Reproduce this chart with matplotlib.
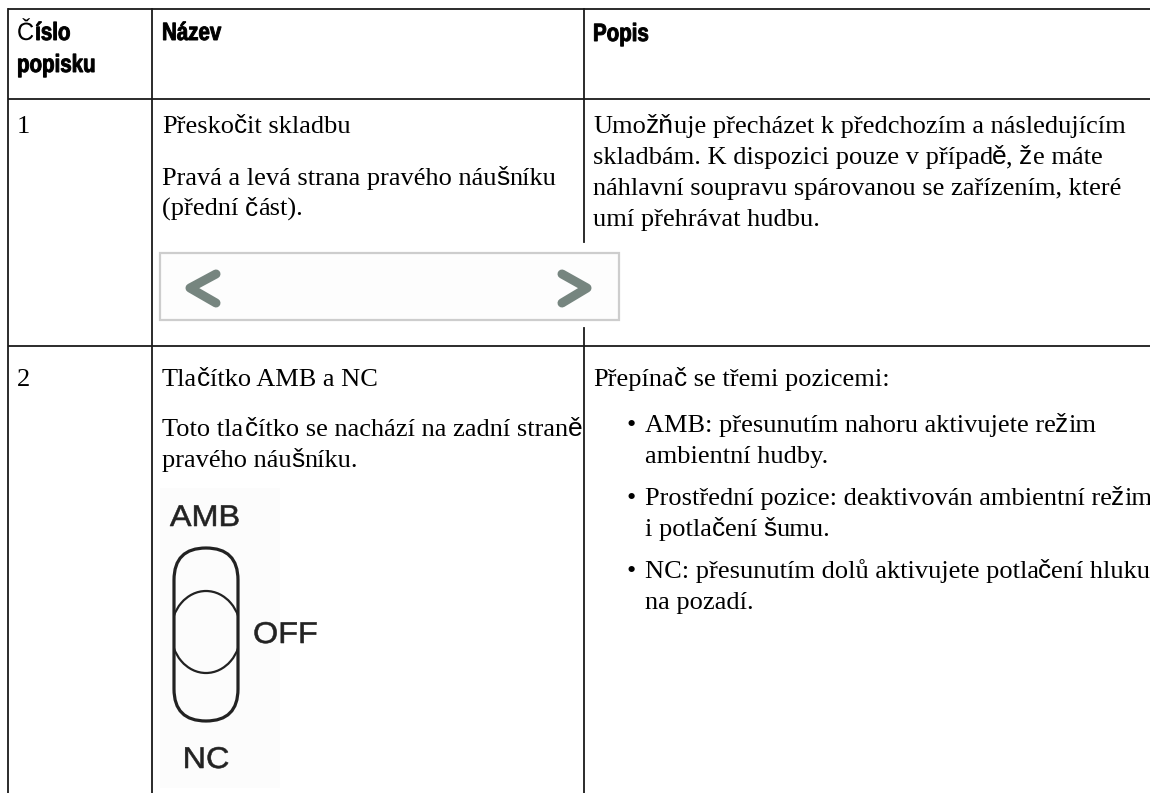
import itertools
import matplotlib.pyplot as plt
from matplotlib.font_manager import FontProperties, findfont
from matplotlib.ft2font import FT2Font
from matplotlib.patches import FancyBboxPatch, Ellipse, Rectangle, PathPatch
from matplotlib.textpath import TextPath
from matplotlib.transforms import Affine2D

# Table content
headers = ["Číslo", "popisku", "Název", "Popis"]
row_numbers = ["1", "2"]
row_names = ["Přeskočit skladbu", "Tlačítko AMB a NC"]
row_places = [["Pravá a levá strana pravého náušníku", "(přední část)."],
              ["Toto tlačítko se nachází na zadní straně", "pravého náušníku."]]
skip_desc = ["Umožňuje přecházet k předchozím a následujícím",
             "skladbám. K dispozici pouze v případě, že máte",
             "náhlavní soupravu spárovanou se zařízením, které",
             "umí přehrávat hudbu."]
switch_intro = "Přepínač se třemi pozicemi:"
switch_bullets = [["AMB: přesunutím nahoru aktivujete režim", "ambientní hudby."],
                  ["Prostřední pozice: deaktivován ambientní režim", "i potlačení šumu."],
                  ["NC: přesunutím dolů aktivujete potlačení hluku", "na pozadí."]]
switch_labels = ["AMB", "OFF", "NC"]

DPI = 100
W, H = 1150, 793
fig = plt.figure(figsize=(W / DPI, H / DPI), dpi=DPI)
ax = fig.add_axes([0, 0, 1, 1])
ax.set_xlim(0, W)
ax.set_ylim(H, 0)
ax.axis("off")

# the source document draws these accented letters with a sans fallback font
SANS_CHARS = set("čžňšěČŽŇŠĚ")
BODY_PT = 19


class Face:
    def __init__(self, prop, pt):
        self.prop = prop.copy()
        self.prop.set_size(pt)
        self.ft = FT2Font(findfont(self.prop))
        self.ft.set_size(pt, DPI)

    def width(self, s):
        return sum(self.ft.load_char(ord(c)).linearHoriAdvance for c in s) / 65536


serif_face = Face(FontProperties(family="Liberation Serif"), BODY_PT)
sans_face = Face(FontProperties(family="Liberation Sans"), BODY_PT)


def body(x, y, s):
    for is_sans, chars in itertools.groupby(s, key=lambda c: c in SANS_CHARS):
        run = "".join(chars)
        face = sans_face if is_sans else serif_face
        ax.text(x, y, run, fontproperties=face.prop, va="baseline", ha="left",
                color="black", clip_on=True)
        x += face.width(run)


def path_text(x, y, s, prop, px, sx=1.0, color="black", stroke=0.0, ha="left"):
    f = FT2Font(findfont(prop))
    f.set_size(px, 72)
    adv = sx * sum(f.load_char(ord(c)).linearHoriAdvance for c in s) / 65536
    if ha == "center":
        x -= adv / 2
    tp = TextPath((0, 0), s, size=px, prop=prop)
    tr = Affine2D().scale(sx, -1).translate(x, y) + ax.transData
    ax.add_patch(PathPatch(tp, transform=tr, facecolor=color, edgecolor=color,
                           lw=stroke))
    return x + adv


head_prop = FontProperties(family="Liberation Sans", weight="bold")
head_reg = FontProperties(family="Liberation Sans")
HEAD_PX = 25
HEAD_SX = 0.82

ink = "#1a1a1a"
lw = 1.3

# grid
x_left, x_c1, x_c2 = 8, 152, 584
y_top, y_head, y_row = 9, 99, 346
for y in [y_top, y_head, y_row]:
    ax.plot([x_left, W + 5], [y, y], color=ink, lw=lw, solid_capstyle="butt")
ax.plot([x_left, x_left], [y_top, H + 5], color=ink, lw=lw)
ax.plot([x_c1, x_c1], [y_top, H + 5], color=ink, lw=lw)
ax.plot([x_c2, x_c2], [y_top, 242], color=ink, lw=lw)
ax.plot([x_c2, x_c2], [328, H + 5], color=ink, lw=lw)

tx0, tx1, tx2 = x_left + 9, x_c1 + 10, x_c2 + 9

# header row
hk = dict(px=HEAD_PX, sx=HEAD_SX, stroke=0.7)
xc = path_text(tx0, 40, headers[0][0], head_reg, HEAD_PX, sx=0.95)
path_text(xc + 1, 40, headers[0][1:], head_prop, **hk)
path_text(tx0, 72, headers[1], head_prop, **hk)
path_text(tx1, 40, headers[2], head_prop, **hk)
path_text(tx2, 41, headers[3], head_prop, **hk)

lh = 31

# row 1
r1 = 133
body(tx0, r1, row_numbers[0])
body(tx1, r1, row_names[0])
for i, s in enumerate(row_places[0]):
    body(tx1, r1 + 52 + i * lh, s)
for i, s in enumerate(skip_desc):
    body(tx2, r1 + i * lh, s)

# skip buttons picture
ax.add_patch(Rectangle((160, 253), 459, 67, facecolor="#fdfdfd", edgecolor="#cdcdcd", lw=1.6))
grey = "#76857f"
ax.plot([216, 190, 216], [274, 288, 303], color=grey, lw=6.5, solid_capstyle="round",
        solid_joinstyle="round")
ax.plot([562, 587, 562], [274, 288, 303], color=grey, lw=6.5, solid_capstyle="round",
        solid_joinstyle="round")

# row 2
r2 = 386
body(tx0, r2, row_numbers[1])
body(tx1, r2, row_names[1])
for i, s in enumerate(row_places[1]):
    body(tx1, r2 + 50 + i * lh, s)
body(tx2, r2, switch_intro)
by = r2 + 46
for lines in switch_bullets:
    body(tx2 + 33, by, "•")
    for j, s in enumerate(lines):
        body(tx2 + 52, by + j * lh, s)
    by += 2 * lh + 11

# switch picture
ax.add_patch(Rectangle((160, 488), 120, 300, facecolor="#fcfcfc", edgecolor="none"))
outer = FancyBboxPatch((174, 548), 64, 173, boxstyle="round,pad=0,rounding_size=32",
                       facecolor="none", edgecolor="#222222", lw=2.3)
ax.add_patch(outer)
inner = Ellipse((206, 632), 70, 82, facecolor="none", edgecolor="#222222", lw=1.6)
inner.set_clip_path(outer)
ax.add_patch(inner)
lab_prop = FontProperties(family="Liberation Sans")
lk = dict(px=30, sx=1.08, color="#222222", stroke=0.4)
path_text(205, 526, switch_labels[0], lab_prop, ha="center", **lk)
path_text(253, 643, switch_labels[1], lab_prop, **lk)
path_text(206, 768, switch_labels[2], lab_prop, ha="center", **lk)

fig.savefig("out.png", dpi=DPI, facecolor="white")
